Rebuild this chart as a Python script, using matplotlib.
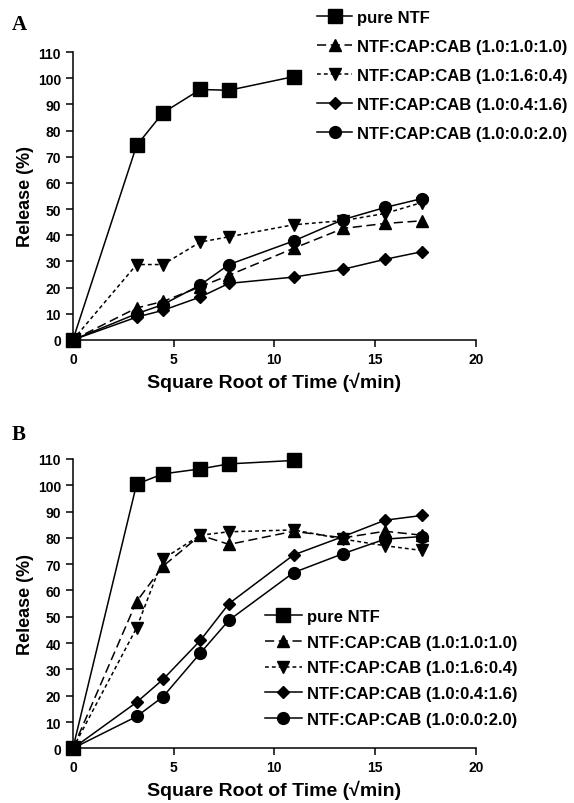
import numpy as np
import matplotlib
matplotlib.use('Agg')
import matplotlib.pyplot as plt

plt.rcParams['font.family'] = ['Liberation Sans', 'DejaVu Sans']
plt.rcParams['font.weight'] = 'bold'

# sampling times (min) -> plotted as square root of time
minutes = [0, 10, 20, 40, 60, 120, 180, 240, 300]
labels = ['pure NTF',
          'NTF:CAP:CAB (1.0:1.0:1.0)',
          'NTF:CAP:CAB (1.0:1.6:0.4)',
          'NTF:CAP:CAB (1.0:0.4:1.6)',
          'NTF:CAP:CAB (1.0:0.0:2.0)']

# panel A release (%)
a_pure = [0, 74.3, 86.8, 95.7, 95.4, 100.6]
a_111 = [0, 12.2, 14.7, 20.3, 24.7, 35.0, 42.6, 44.5, 45.5]
a_1604 = [0, 28.8, 28.8, 37.4, 39.4, 44.0, 45.6, 48.3, 52.5]
a_0416 = [0, 8.7, 11.3, 16.4, 21.6, 24.0, 27.0, 30.8, 33.7]
a_0020 = [0, 10.0, 13.5, 21.0, 28.8, 37.8, 46.0, 50.6, 54.0]

# panel B release (%)
b_pure = [0, 100.4, 104.3, 106.2, 108.1, 109.4]
b_111 = [0, 55.8, 69.2, 81.0, 77.5, 82.5, 80.0, 82.5, 81.0]
b_1604 = [0, 45.8, 72.0, 81.0, 82.3, 83.0, 79.5, 77.0, 75.2]
b_0416 = [0, 17.5, 26.2, 41.0, 55.0, 73.5, 80.5, 86.7, 88.5]
b_0020 = [0, 12.1, 19.6, 36.2, 48.7, 66.8, 74.0, 79.5, 80.5]

x = np.sqrt(minutes)

styles = [dict(marker='s', ms=9.5, ls='-'),
          dict(marker='^', ms=8, ls=(0, (6, 3))),
          dict(marker='v', ms=8, ls=(0, (2.5, 2))),
          dict(marker='D', ms=6.5, ls='-'),
          dict(marker='o', ms=8.5, ls='-')]


def draw_panel(ax, series):
    for vals, st, lab in zip(series, styles, labels):
        ax.plot(x[:len(vals)], vals, color='black', lw=1.1, label=lab,
                clip_on=False, zorder=3, **st)
    ax.set_xlim(0, 20)
    ax.set_ylim(0, 110)
    ax.set_xticks([0, 5, 10, 15, 20])
    ax.set_yticks(np.arange(0, 111, 10))
    for s in ['top', 'right']:
        ax.spines[s].set_visible(False)
    for s in ['left', 'bottom']:
        ax.spines[s].set_linewidth(1.1)
    ax.tick_params(direction='out', length=5, width=1.1, labelsize=10)
    ax.set_xlabel('Square Root of Time (\u221amin)', fontsize=14,
                  fontweight='bold', labelpad=4)
    ax.set_ylabel('Release (%)', fontsize=13, fontweight='bold', labelpad=3)


fig = plt.figure(figsize=(5.74, 8.04), dpi=100)
ax1 = fig.add_axes([0.127, 0.576, 0.702, 0.358])
ax2 = fig.add_axes([0.127, 0.068, 0.702, 0.360])

draw_panel(ax1, [a_pure, a_111, a_1604, a_0416, a_0020])
draw_panel(ax2, [b_pure, b_111, b_1604, b_0416, b_0020])

leg_kw = dict(frameon=False, loc='upper left', borderpad=0, borderaxespad=0,
              numpoints=1, handletextpad=0.3, prop={'weight': 'bold', 'size': 12})
fig.legend(*ax1.get_legend_handles_labels(), bbox_to_anchor=(317 / 574, 1 - 11 / 804),
           handlelength=2.1, labelspacing=0.84, **leg_kw)
fig.legend(*ax2.get_legend_handles_labels(), bbox_to_anchor=(265 / 574, 1 - 610 / 804),
           handlelength=2.2, labelspacing=0.64, **leg_kw)

fig.text(12 / 574, 1 - 30 / 804, 'A', family='Liberation Serif', fontsize=15,
         fontweight='bold')
fig.text(12 / 574, 1 - 440 / 804, 'B', family='Liberation Serif', fontsize=15,
         fontweight='bold')

fig.savefig('out.png', dpi=100)
